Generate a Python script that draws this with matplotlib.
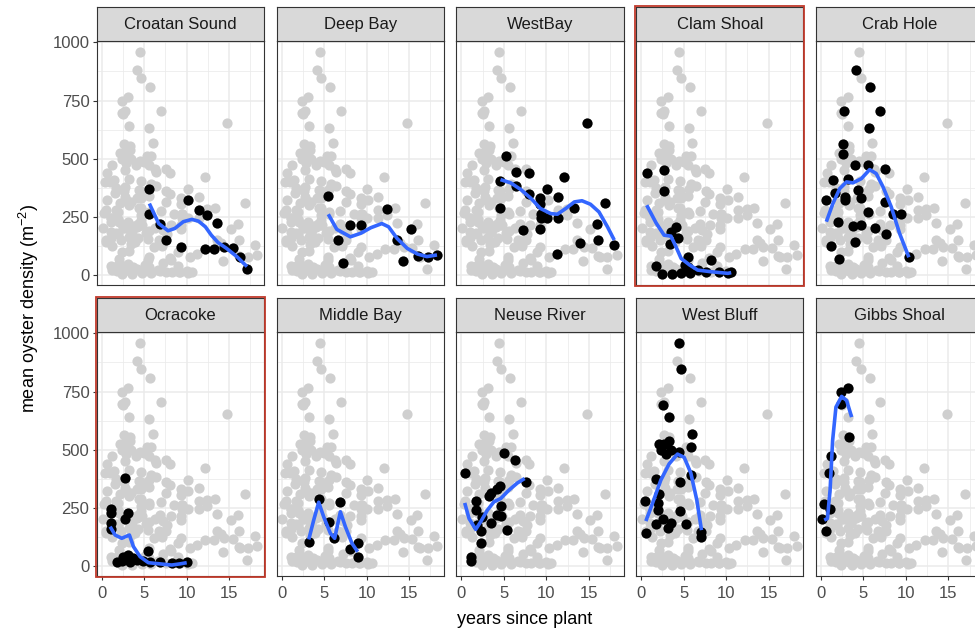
"""
Oyster density vs years since plant, one facet per reef site.
Grey = every site, black = the facet's site, blue = smoothed trend.
"""

import matplotlib.pyplot as plt
from matplotlib.patches import Rectangle

plt.rcParams["font.family"] = ["Liberation Sans", "DejaVu Sans"]
plt.rcParams["mathtext.fontset"] = "custom"
plt.rcParams["mathtext.rm"] = "Liberation Sans"
plt.rcParams["mathtext.it"] = "Liberation Sans:italic"

# ---- data ----
sites = ["Croatan Sound", "Deep Bay", "WestBay", "Clam Shoal", "Crab Hole",
         "Ocracoke", "Middle Bay", "Neuse River", "West Bluff", "Gibbs Shoal"]
flagged = ["Clam Shoal", "Ocracoke"]

croatan_x = [5.6, 5.6, 6.9, 7.6, 9.3, 10.2, 11.4, 12.4, 13.6, 12.2, 13.2, 14.4, 15.4, 16.3, 17.1]
croatan_y = [371, 260, 219, 150, 121, 321, 279, 257, 224, 110, 110, 119, 114, 79, 24]
croatan_fit_x = [5.6, 6.7, 7.8, 8.6, 9.6, 10.6, 11.4, 12.2, 12.9, 13.7, 14.7, 15.9, 17.1]
croatan_fit_y = [307, 221, 190, 200, 229, 239, 231, 207, 171, 139, 114, 79, 36]

deep_x = [5.5, 6.7, 7.2, 8.1, 9.3, 12.4, 13.6, 14.3, 15.2, 16.1, 17.2, 18.3]
deep_y = [339, 150, 50, 213, 213, 283, 150, 60, 197, 81, 79, 86]
deep_fit_x = [5.5, 6.5, 8.1, 9.3, 10.5, 11.8, 12.6, 13.6, 14.8, 16.0, 17.1, 18.3]
deep_fit_y = [261, 196, 164, 179, 203, 221, 207, 157, 114, 90, 79, 86]

westbay_x = [5.3, 4.6, 4.6, 6.4, 6.4, 8.0, 8.0, 7.2, 9.3, 9.3, 10.1, 9.4, 9.4, 10.1,
             9.3, 11.4, 11.4, 12.1, 11.2, 13.3, 14.0, 14.8, 16.0, 16.1, 16.9, 18.0]
westbay_y = [510, 403, 286, 443, 381, 439, 350, 193, 329, 304, 370, 264, 243, 243,
             196, 336, 243, 421, 89, 290, 136, 653, 221, 150, 310, 129]
westbay_fit_x = [4.6, 5.8, 7.0, 8.2, 9.3, 10.5, 11.3, 12.3, 13.3, 14.2, 15.2, 16.2, 17.2, 18.0]
westbay_fit_y = [410, 396, 367, 329, 286, 264, 261, 286, 314, 319, 304, 271, 207, 150]

clam_x = [0.65, 2.7, 2.65, 4.1, 3.5, 4.3, 3.4, 1.75, 2.4, 3.6, 4.7, 5.5, 5.55, 5.8,
          6.65, 7.6, 8.2, 9.2, 10.2, 10.6, 5.1]
clam_y = [439, 453, 360, 207, 186, 161, 133, 40, 5, 5, 8, 79, 36, 8,
          20, 14, 64, 14, 10, 14, 43]
clam_fit_x = [0.65, 1.75, 2.7, 3.5, 4.1, 4.7, 5.7, 6.65, 8.2, 10.2, 10.6]
clam_fit_y = [300, 224, 171, 167, 121, 71, 43, 21, 14, 7, 10]

crab_x = [4.16, 5.73, 2.71, 7.0, 5.6, 2.63, 2.63, 4.04, 5.53, 7.57, 3.18, 1.45, 4.35,
          0.63, 1.61, 2.78, 2.86, 4.67, 7.57, 5.53, 8.47, 9.45, 2.0, 3.76, 4.75,
          6.31, 7.69, 3.96, 1.22, 2.08, 10.35]
crab_y = [883, 810, 707, 707, 631, 561, 519, 471, 471, 457, 414, 410, 364,
          321, 353, 336, 321, 329, 313, 271, 260, 260, 229, 211, 214,
          200, 176, 143, 126, 67, 76]
crab_fit_x = [0.63, 1.4, 2.2, 3.0, 3.76, 4.75, 5.73, 6.5, 7.3, 8.27, 9.25, 10.35]
crab_fit_y = [229, 307, 371, 400, 396, 414, 453, 436, 379, 293, 179, 76]

ocracoke_x = [2.75, 1.06, 1.06, 3.14, 2.75, 1.06, 1.06, 5.49, 3.14, 1.76, 2.35, 3.33,
              4.12, 4.9, 5.69, 6.86, 8.24, 9.14, 10.0, 2.55, 3.73]
ocracoke_y = [379, 247, 229, 229, 200, 183, 157, 66, 47, 19, 23, 19,
              26, 23, 19, 19, 11, 11, 19, 40, 33]
ocracoke_fit_x = [0.98, 1.57, 2.35, 3.25, 3.73, 4.51, 5.49, 6.86, 8.24, 9.2, 10.0]
ocracoke_fit_y = [169, 133, 119, 133, 83, 40, 14, 9, 4, 9, 14]

middle_x = [3.2, 4.37, 5.55, 6.14, 6.92, 8.02, 8.96, 8.96]
middle_y = [104, 286, 190, 119, 276, 71, 97, 40]
middle_fit_x = [3.2, 3.78, 4.37, 4.96, 5.75, 6.25, 6.92, 7.51, 8.29, 8.96]
middle_fit_y = [114, 197, 274, 211, 140, 119, 233, 169, 97, 61]

neuse_x = [0.39, 5.0, 6.3, 7.6, 4.6, 4.2, 3.45, 3.25, 1.69, 1.69, 4.63, 2.47, 4.24,
           4.63, 3.45, 5.41, 1.88, 2.27, 2.35, 1.1, 1.18]
neuse_y = [400, 487, 454, 361, 343, 329, 314, 300, 280, 240, 257, 211, 219,
           214, 183, 154, 176, 151, 97, 40, 23]
neuse_fit_x = [0.39, 0.9, 1.69, 2.27, 3.06, 3.84, 4.63, 5.6, 6.6, 7.45]
neuse_fit_y = [271, 204, 157, 190, 240, 276, 290, 326, 357, 376]

bluff_x = [4.47, 4.67, 2.51, 3.22, 6.04, 5.84, 2.12, 2.71, 3.29, 2.39, 2.9, 3.49, 4.47,
           1.73, 4.59, 5.84, 2.12, 0.47, 1.96, 1.96, 4.59, 2.51, 1.73, 3.18, 3.49,
           5.25, 0.55, 7.1, 7.1]
bluff_y = [957, 846, 694, 640, 566, 510, 526, 524, 536, 500, 481, 500, 490,
           376, 359, 390, 309, 280, 269, 240, 237, 200, 179, 164, 183,
           179, 140, 144, 123]
bluff_fit_x = [0.55, 1.33, 2.31, 3.29, 4.27, 5.06, 5.84, 6.55, 7.1]
bluff_fit_y = [193, 269, 369, 439, 481, 467, 400, 283, 154]

gibbs_x = [3.14, 2.38, 2.38, 3.31, 1.21, 0.98, 0.31, 1.07, 0.1, 0.55]
gibbs_y = [766, 747, 697, 556, 471, 400, 266, 247, 204, 151]
gibbs_fit_x = [0.38, 0.76, 1.07, 1.37, 1.76, 2.43, 3.02, 3.61]
gibbs_fit_y = [197, 204, 326, 540, 683, 729, 711, 640]

x_ticks = [0, 5, 10, 15]
y_ticks = [0, 250, 500, 750, 1000]

site_points = {
    "Croatan Sound": (croatan_x, croatan_y, croatan_fit_x, croatan_fit_y),
    "Deep Bay": (deep_x, deep_y, deep_fit_x, deep_fit_y),
    "WestBay": (westbay_x, westbay_y, westbay_fit_x, westbay_fit_y),
    "Clam Shoal": (clam_x, clam_y, clam_fit_x, clam_fit_y),
    "Crab Hole": (crab_x, crab_y, crab_fit_x, crab_fit_y),
    "Ocracoke": (ocracoke_x, ocracoke_y, ocracoke_fit_x, ocracoke_fit_y),
    "Middle Bay": (middle_x, middle_y, middle_fit_x, middle_fit_y),
    "Neuse River": (neuse_x, neuse_y, neuse_fit_x, neuse_fit_y),
    "West Bluff": (bluff_x, bluff_y, bluff_fit_x, bluff_fit_y),
    "Gibbs Shoal": (gibbs_x, gibbs_y, gibbs_fit_x, gibbs_fit_y),
}

all_x = [v for s in sites for v in site_points[s][0]]
all_y = [v for s in sites for v in site_points[s][1]]

# ---- layout (pixels of a 975 x 637 canvas) ----
W, H = 975, 637
fig = plt.figure(figsize=(W / 100, H / 100), dpi=100)

PANEL_W = 167.3
PANEL_H = 244.7
STRIP_H = 33.2
COL_LEFT = [96.7 + 179.8 * c for c in range(5)]
ROW_TOP = [40.5, 331.5]

GRID = "#EBEBEB"
FRAME = "#333333"
TICK_TXT = "#4D4D4D"

for i, site in enumerate(sites):
    r, c = divmod(i, 5)
    left, top = COL_LEFT[c], ROW_TOP[r]
    ax = fig.add_axes([left / W, 1 - (top + PANEL_H) / H, PANEL_W / W, PANEL_H / H])
    sx = fig.add_axes([left / W, 1 - top / H, PANEL_W / W, STRIP_H / H])

    ax.set_xlim(-0.6, 19.1)
    ax.set_ylim(-44, 1008)
    ax.set_xticks(x_ticks)
    ax.set_yticks(y_ticks)
    ax.set_xticks([2.5, 7.5, 12.5, 17.5], minor=True)
    ax.set_yticks([125, 375, 625, 875], minor=True)
    ax.grid(True, which="major", color=GRID, linewidth=1.1)
    ax.grid(True, which="minor", color=GRID, linewidth=0.55)
    ax.set_axisbelow(True)
    for sp in ax.spines.values():
        sp.set_color(FRAME)
        sp.set_linewidth(0.8)
    ax.tick_params(which="minor", length=0)
    ax.tick_params(which="major", length=3.2, width=0.8, color=FRAME,
                   labelsize=12, labelcolor=TICK_TXT, pad=2)
    ax.tick_params(axis="x", pad=4)
    if c != 0:
        ax.tick_params(axis="y", length=0, labelleft=False)
    if r != 1:
        ax.tick_params(axis="x", length=0, labelbottom=False)

    xs, ys, fx, fy = site_points[site]
    ax.scatter(all_x, all_y, s=54, color="#CFCFCF", linewidths=0, zorder=2)
    ax.scatter(xs, ys, s=54, color="black", linewidths=0, zorder=3)
    ax.plot(fx, fy, color="#3366FF", linewidth=2.6, zorder=4, solid_capstyle="butt")

    sx.set_facecolor("#D9D9D9")
    sx.set_xticks([])
    sx.set_yticks([])
    for sp in sx.spines.values():
        sp.set_color(FRAME)
        sp.set_linewidth(0.8)
    sx.text(0.5, 0.48, site, ha="center", va="center", fontsize=12,
            color="#1A1A1A", transform=sx.transAxes)

    if site in flagged:
        fig.patches.append(Rectangle(((left - 0.8) / W, 1 - (top + PANEL_H + 1.2) / H),
                                     (PANEL_W + 1.6) / W, (PANEL_H + STRIP_H + 2.4) / H,
                                     transform=fig.transFigure, fill=False,
                                     edgecolor="#C0392B", linewidth=1.3, zorder=10))

fig.text(525 / W, 1 - 620 / H, "years since plant", ha="center", va="center", fontsize=13)
fig.text(29 / W, 1 - 308 / H, r"mean oyster density (m$^{-2}$)", ha="center",
         va="center", rotation=90, fontsize=13)

fig.savefig("out.png", dpi=100)
